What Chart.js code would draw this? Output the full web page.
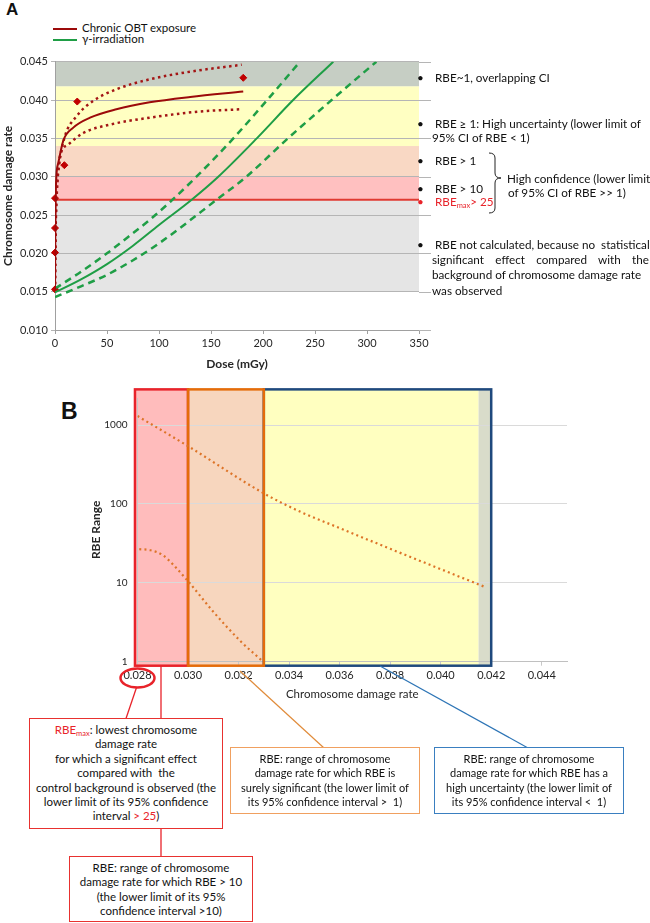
<!DOCTYPE html>
<html>
<head>
<meta charset="utf-8">
<script src="https://cdn.jsdelivr.net/npm/chart.js@4"></script>
<style>
  body { margin: 0; width: 650px; height: 923px; position: relative; overflow: hidden; background: #fff;
         font-family: Lato, "Liberation Sans", sans-serif; color: #111; }
  canvas { position: absolute; left: 0; }
  #chartA { top: 0; }
  #chartB { top: 380px; }
  .t { position: absolute; white-space: nowrap; font-size: 11.7px; line-height: 14px; }
  .red { color: #e8232a; }
  sub { font-size: 7.5px; line-height: 0; vertical-align: -2px; }
  .lbl { position: absolute; font-family: "Liberation Sans", Arial, sans-serif; font-weight: bold; }
  .box { position: absolute; box-sizing: border-box; background: #fff; border: 1.5px solid; text-align: center;
         font-size: 11px; line-height: 14.4px; white-space: nowrap; }
  .leg { position: absolute; font-size: 11.5px; line-height: 14px; white-space: nowrap; }
  .leg i { display: inline-block; width: 24px; border-top: 2px solid; vertical-align: middle; margin-right: 5px; margin-left: -29px; }
  svg { position: absolute; left: 0; top: 0; }
</style>
</head>
<body>
<div class="lbl" style="left:6px;top:0px;font-size:17px">A</div>
<div class="lbl" style="left:61px;top:398px;font-size:23px">B</div>

<div class="leg" style="left:82px;top:21px"><i style="border-color:#9c0a0a"></i>Chronic OBT exposure</div>
<div class="leg" style="left:82px;top:32px"><i style="border-color:#1f9e46"></i>γ-irradiation</div>

<canvas id="chartA" width="650" height="375"></canvas>
<canvas id="chartB" width="650" height="325"></canvas>

<!-- panel A, right-hand notes -->
<div class="t" style="left:417px;top:70px">•</div>
<div class="t" style="left:435px;top:70px">RBE~1, overlapping CI</div>
<div class="t" style="left:417px;top:116px">•</div>
<div class="t" style="left:435px;top:116px">RBE ≥ 1: High uncertainty (lower limit of</div>
<div class="t" style="left:432px;top:130px">95% CI of RBE &lt; 1)</div>
<div class="t" style="left:417px;top:153px">•</div>
<div class="t" style="left:435px;top:153px">RBE &gt; 1</div>
<div class="t" style="left:417px;top:181px">•</div>
<div class="t" style="left:435px;top:181px">RBE &gt; 10</div>
<div class="t red" style="left:417px;top:194px">•</div>
<div class="t red" style="left:435px;top:194px">RBE<sub>max</sub>&gt; 25</div>
<div class="t" style="left:507px;top:171px">High confidence (lower limit</div>
<div class="t" style="left:508px;top:185px">of 95% CI of RBE &gt;&gt; 1)</div>
<div class="t" style="left:417px;top:237px">•</div>
<div class="t" style="left:435px;top:237px">RBE not calculated, because no&nbsp; statistical</div>
<div class="t" style="left:432px;top:252px;width:217px;text-align:justify;text-align-last:justify;white-space:normal">significant effect compared with the</div>
<div class="t" style="left:432px;top:267px">background of chromosome damage rate</div>
<div class="t" style="left:432px;top:283px">was observed</div>

<svg width="650" height="923">
  <path d="M489,153 Q495,153 495,158 L495,173 Q495,178 501,178 Q495,178 495,183 L495,208 Q495,213 489,213"
        fill="none" stroke="#222" stroke-width="1"/>
  <ellipse cx="137.5" cy="678" rx="17" ry="9.5" fill="none" stroke="#e8232a" stroke-width="2.5"/>
  <line x1="136.5" y1="687.5" x2="126" y2="718.5" stroke="#e8232a" stroke-width="1.3"/>
  <line x1="161" y1="666" x2="161" y2="718.5" stroke="#e8232a" stroke-width="1.3"/>
  <line x1="161" y1="828" x2="161" y2="856" stroke="#e8232a" stroke-width="1.3"/>
  <line x1="240" y1="671" x2="324" y2="748" stroke="#e08b3a" stroke-width="1.2"/>
  <line x1="380" y1="666" x2="528" y2="748" stroke="#2e75b6" stroke-width="1.2"/>
</svg>

<div class="box" style="left:29px;top:718px;width:194px;height:111px;border-color:#e8312f;padding-top:4px;font-size:11.5px">
  <span class="red">RBE<sub>max</sub></span>: lowest chromosome<br>damage rate<br>for which a significant effect<br>compared with&nbsp; the<br>control background is observed (the<br>lower limit of its 95% confidence<br>interval <span class="red">&gt; 25</span>)
</div>
<div class="box" style="left:230px;top:747px;width:190px;height:67px;border-color:#f0a060;padding-top:4px">
  RBE: range of chromosome<br>damage rate for which RBE is<br>surely significant (the lower limit of<br>its 95% confidence interval &gt;&nbsp; 1)
</div>
<div class="box" style="left:434px;top:747px;width:190px;height:67px;border-color:#3a7fc0;padding-top:4px">
  RBE: range of chromosome<br>damage rate for which RBE has a<br>high uncertainty (the lower limit of<br>its 95% confidence interval &lt;&nbsp; 1)
</div>
<div class="box" style="left:69px;top:856px;width:184px;height:66px;border-color:#e8312f;padding-top:4px;font-size:11.5px">
  RBE: range of chromosome<br>damage rate for which RBE &gt; 10<br>(the lower limit of its 95%<br>confidence interval &gt;10)
</div>

<script>
Chart.defaults.font.family = 'Lato, "Liberation Sans", sans-serif';
Chart.defaults.color = '#262626';

// ---- Panel A: chromosome damage rate vs dose ----
const doseTicks = [0, 50, 100, 150, 200, 250, 300, 350];
const rateTicks = [0.010, 0.015, 0.020, 0.025, 0.030, 0.035, 0.040, 0.045];

// chronic OBT exposure: fit and 95% CI (dose in mGy)
const obtDose   = [0, 0.3, 0.6, 1, 3.2, 8, 17.6, 33.7, 59, 91, 130, 181];
const obtFit    = [0.0152, 0.022, 0.026, 0.0292, 0.0318, 0.0347, 0.0364, 0.0377, 0.0388, 0.0397, 0.0404, 0.0411];
const obtUpDose = [0, 0.4, 1, 1.6, 4.2, 9.6, 20.8, 36.9, 59, 91, 130, 179.5];
const obtUp     = [0.0152, 0.022, 0.026, 0.0283, 0.0318, 0.0353, 0.0379, 0.0399, 0.0414, 0.0427, 0.0437, 0.0446];
const obtLoDose = [0, 0.5, 1.5, 3, 4.8, 12.8, 27.2, 53, 91, 139, 179.5];
const obtLo     = [0.0152, 0.022, 0.027, 0.0305, 0.0327, 0.0342, 0.0357, 0.0368, 0.0377, 0.0385, 0.0388];
// observed OBT points
const obsDose = [0, 0, 0, 0, 9, 21.4, 181];
const obsRate = [0.0153, 0.0201, 0.0233, 0.0272, 0.0315, 0.0398, 0.0429];

// gamma irradiation: fit and 95% CI
const gamDose   = [0, 25, 50, 75, 100, 131.4, 157, 194, 229, 267.6];
const gamFit    = [0.0149, 0.0166, 0.0186, 0.0210, 0.0237, 0.0270, 0.0300, 0.0350, 0.0400, 0.0450];
const gamUpDose = [0, 25, 50, 70, 91.3, 110.6, 136, 171.5, 204, 235.6];
const gamUp     = [0.0154, 0.0176, 0.0200, 0.0221, 0.0244, 0.0267, 0.0300, 0.0350, 0.0400, 0.0450];
const gamLoDose = [0, 25, 50, 75, 100, 155.5, 184, 224, 266, 309];
const gamLo     = [0.0143, 0.0157, 0.0172, 0.0191, 0.0213, 0.0270, 0.0300, 0.0350, 0.0400, 0.0450];

// RBE zones on the damage-rate axis
const bandEdgesA = [0.015, 0.027, 0.030, 0.034, 0.0418, 0.045];
const rbeMaxRate = 0.027;
const bandColorsA = ['#e5e5e5', '#ffc0c0', '#f9d8c4', '#ffffc2', '#c6cec4'];

const pts = (xs, ys) => xs.map((x, i) => ({ x: x, y: ys[i] }));

const bandsA = {
  id: 'bandsA',
  beforeDraw(chart) {
    const { ctx, chartArea: a, scales: { y } } = chart;
    ctx.save();
    bandColorsA.forEach((c, i) => {
      const top = y.getPixelForValue(bandEdgesA[i + 1]);
      const bot = y.getPixelForValue(bandEdgesA[i]);
      ctx.fillStyle = c;
      ctx.fillRect(a.left, top, a.right - a.left, bot - top);
    });
    ctx.restore();
  },
  beforeDatasetsDraw(chart) {
    const { ctx, chartArea: a, scales: { y } } = chart;
    const py = y.getPixelForValue(rbeMaxRate);
    ctx.save();
    ctx.strokeStyle = '#e03a32';
    ctx.lineWidth = 2;
    ctx.beginPath(); ctx.moveTo(a.left, py); ctx.lineTo(a.right, py); ctx.stroke();
    ctx.restore();
  },
  afterDraw(chart) {
    // grid lines run a little past the plot, towards the notes
    const { ctx, chartArea: a, scales: { y } } = chart;
    ctx.save();
    ctx.strokeStyle = '#b5b5b5';
    ctx.lineWidth = 1;
    rateTicks.forEach(v => {
      const py = Math.round(y.getPixelForValue(v)) + 0.5;
      ctx.beginPath(); ctx.moveTo(a.right, py); ctx.lineTo(a.right + 12, py); ctx.stroke();
    });
    ctx.restore();
  }
};

new Chart(document.getElementById('chartA'), {
  type: 'scatter',
  data: {
    datasets: [
      { label: 'Chronic OBT exposure', data: pts(obtDose, obtFit), showLine: true, borderColor: '#9c0a0a',
        borderWidth: 2, pointRadius: 0, cubicInterpolationMode: 'monotone' },
      { label: 'OBT CI upper', data: pts(obtUpDose, obtUp), showLine: true, borderColor: '#a31515',
        borderWidth: 2.5, borderDash: [2.5, 3.5], pointRadius: 0, cubicInterpolationMode: 'monotone' },
      { label: 'OBT CI lower', data: pts(obtLoDose, obtLo), showLine: true, borderColor: '#a31515',
        borderWidth: 2.5, borderDash: [2.5, 3.5], pointRadius: 0, cubicInterpolationMode: 'monotone' },
      { label: 'γ-irradiation', data: pts(gamDose, gamFit), showLine: true, borderColor: '#1f9e46',
        borderWidth: 2, pointRadius: 0, cubicInterpolationMode: 'monotone' },
      { label: 'γ CI upper', data: pts(gamUpDose, gamUp), showLine: true, borderColor: '#1f9e46',
        borderWidth: 2.5, borderDash: [7, 5], pointRadius: 0, cubicInterpolationMode: 'monotone' },
      { label: 'γ CI lower', data: pts(gamLoDose, gamLo), showLine: true, borderColor: '#1f9e46',
        borderWidth: 2.5, borderDash: [7, 5], pointRadius: 0, cubicInterpolationMode: 'monotone' },
      { label: 'OBT observed', data: pts(obsDose, obsRate), showLine: false, pointStyle: 'rectRot',
        pointRadius: 3.5, backgroundColor: '#c00000', borderColor: '#c00000', clip: false }
    ]
  },
  options: {
    responsive: false,
    animation: false,
    layout: { padding: { left: 0, top: 61.7, right: 231, bottom: 0 } },
    plugins: { legend: { display: false }, tooltip: { enabled: false } },
    scales: {
      x: {
        type: 'linear', min: 0, max: 350,
        afterBuildTicks: s => { s.ticks = doseTicks.map(v => ({ value: v })); },
        afterFit: s => { s.height = 45; },
        grid: { drawOnChartArea: false, tickLength: 4, color: '#a0a0a0' },
        border: { color: '#a0a0a0' },
        ticks: { font: { size: 11 }, padding: 3, maxRotation: 0 },
        title: { display: true, text: 'Dose (mGy)', font: { size: 12, weight: 'bold' }, padding: { top: 4 } }
      },
      y: {
        min: 0.010, max: 0.045,
        afterBuildTicks: s => { s.ticks = rateTicks.map(v => ({ value: v })); },
        afterFit: s => { s.width = 55; },
        grid: { color: '#b5b5b5', tickLength: 4 },
        border: { color: '#a0a0a0' },
        ticks: { font: { size: 11 }, padding: 3, callback: v => v.toFixed(3) },
        title: { display: true, text: 'Chromosome damage rate', font: { size: 12, weight: 'bold' }, padding: { top: 1 } }
      }
    }
  },
  plugins: [bandsA]
});

// ---- Panel B: RBE range vs chromosome damage rate ----
const rateTicksB = [0.028, 0.030, 0.032, 0.034, 0.036, 0.038, 0.040, 0.042, 0.044];
const rbeTicks = [1, 10, 100, 1000];

const upRate = [0.028, 0.030, 0.033, 0.0345, 0.0357, 0.038, 0.0417];
const rbeUp  = [1300, 540, 136, 78, 54, 27, 9.0];
const loRate = [0.02807, 0.0285, 0.0290, 0.0299, 0.0310, 0.0321, 0.0329];
const rbeLo  = [26.7, 25.9, 22.4, 11.4, 4.3, 1.79, 1.05];

// zone limits: RBEmax / RBE>10, RBE>1, high uncertainty, overlapping CI
const zoneEdges = [0.0279, 0.030, 0.033, 0.0415, 0.042];
const zoneTopRBE = 2830;

const zonesB = {
  id: 'zonesB',
  beforeDraw(chart) {
    const { ctx, scales: { x, y } } = chart;
    const top = y.getPixelForValue(zoneTopRBE), bot = y.bottom + 4;
    const fills = ['#ffbcbc', '#f7d6be', '#ffffc0', '#d9dcca'];
    ctx.save();
    fills.forEach((c, i) => {
      const l = x.getPixelForValue(zoneEdges[i]), r = x.getPixelForValue(zoneEdges[i + 1]);
      ctx.fillStyle = c;
      ctx.fillRect(l, top, r - l, bot - top);
    });
    ctx.restore();
  },
  beforeDatasetsDraw(chart) {
    const { ctx, scales: { x, y } } = chart;
    const top = y.getPixelForValue(zoneTopRBE), bot = y.bottom + 4;
    const px = v => x.getPixelForValue(v);
    ctx.save();
    ctx.lineWidth = 2.5;
    ctx.strokeStyle = '#1f497d';
    ctx.strokeRect(px(zoneEdges[2]), top, px(zoneEdges[4]) - px(zoneEdges[2]), bot - top);
    ctx.strokeStyle = '#e8232a';
    ctx.strokeRect(px(zoneEdges[0]), top, px(zoneEdges[1]) - px(zoneEdges[0]), bot - top);
    ctx.strokeStyle = '#e46c0a';
    ctx.strokeRect(px(zoneEdges[1]), top, px(zoneEdges[2]) - px(zoneEdges[1]), bot - top);
    ctx.restore();
  }
};

new Chart(document.getElementById('chartB'), {
  type: 'scatter',
  data: {
    datasets: [
      { label: 'RBE upper', data: pts(upRate, rbeUp), showLine: true, borderColor: '#dd7428',
        borderWidth: 2.2, borderDash: [2, 3.2], pointRadius: 0, cubicInterpolationMode: 'monotone' },
      { label: 'RBE lower', data: pts(loRate, rbeLo), showLine: true, borderColor: '#dd7428',
        borderWidth: 2.2, borderDash: [2, 3.2], pointRadius: 0, cubicInterpolationMode: 'monotone' }
    ]
  },
  options: {
    responsive: false,
    animation: false,
    layout: { padding: { left: 87, top: 18, right: 83, bottom: 0 } },
    plugins: { legend: { display: false }, tooltip: { enabled: false } },
    scales: {
      x: {
        type: 'linear', min: 0.028, max: 0.045,
        afterBuildTicks: s => { s.ticks = rateTicksB.map(v => ({ value: v })); },
        afterFit: s => { s.height = 43.3; },
        grid: { drawOnChartArea: false, tickLength: 4, color: '#c8c8c8' },
        border: { color: '#c0c0c0' },
        ticks: { font: { size: 11 }, padding: 3, maxRotation: 0, callback: v => v.toFixed(3) },
        title: { display: true, text: 'Chromosome damage rate', font: { size: 11.5 }, padding: { top: 4 } }
      },
      y: {
        type: 'logarithmic', min: 1, max: 2200,
        afterBuildTicks: s => { s.ticks = rbeTicks.map(v => ({ value: v })); },
        afterFit: s => { s.width = 50.5; },
        grid: { color: '#dadada', drawTicks: false },
        border: { color: '#c8c8c8' },
        ticks: { font: { size: 10 }, padding: 10, callback: v => String(v) },
        title: { display: true, text: 'RBE Range', font: { size: 12, weight: 'bold' }, padding: { top: 2 } }
      }
    }
  },
  plugins: [zonesB]
});
</script>
</body>
</html>
